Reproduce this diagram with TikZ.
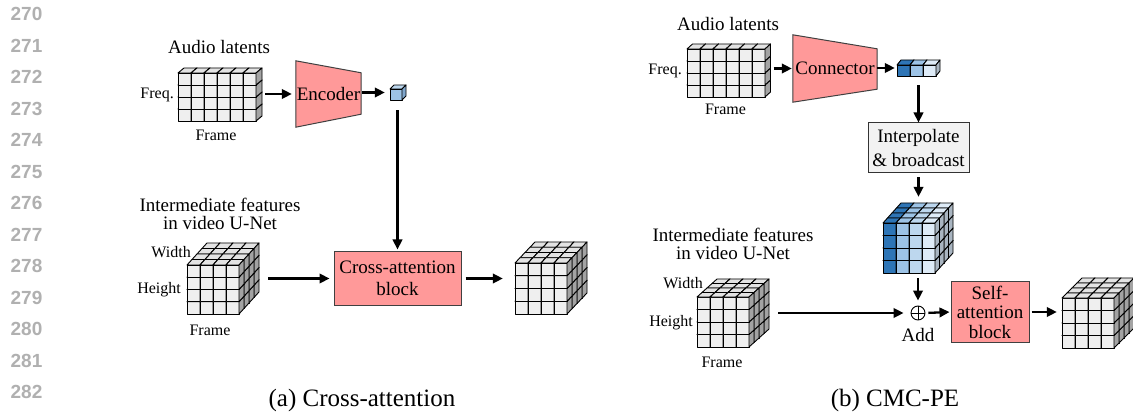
\documentclass[tikz,border=0pt]{standalone}
\usepackage{fontspec}
\setmainfont{Liberation Serif}
\newfontfamily\numfont{Liberation Sans}
\usetikzlibrary{arrows.meta,calc,fit,backgrounds}

% block and cube colours
\definecolor{blockpink}{HTML}{FF9999}
\definecolor{boxgray}{HTML}{F2F2F2}
\definecolor{gface}{HTML}{EFEFEF}
\definecolor{gtop}{HTML}{E3E3E3}
\definecolor{gside}{HTML}{A3A3A3}
\definecolor{bA}{HTML}{2E75B6}\definecolor{bAs}{HTML}{1F4E79}
\definecolor{bB}{HTML}{9DC3E6}\definecolor{bBs}{HTML}{7394B5}
\definecolor{bC}{HTML}{BDD7EE}\definecolor{bCs}{HTML}{8FA8BF}
\definecolor{bD}{HTML}{DEEBF7}\definecolor{bDs}{HTML}{A9B5C1}
\definecolor{bBt}{HTML}{BDD7EE}\definecolor{bBss}{HTML}{7FA6CC}
\definecolor{linenum}{HTML}{B0B0B0}

% colour palettes: set face/top/side colour for column #1
\newcommand\palgray[1]{\def\cubF{gface}\def\cubT{gtop}\def\cubS{gside}}
\newcommand\palsingle[1]{\def\cubF{bB}\def\cubT{bBt}\def\cubS{bBss}}
\newcommand\palrow[1]{\ifcase#1\relax
  \def\cubF{bA}\def\cubT{bA}\def\cubS{bAs}\or
  \def\cubF{bB}\def\cubT{bB}\def\cubS{bBs}\else
  \def\cubF{bD}\def\cubT{bD}\def\cubS{bDs}\fi}
\newcommand\palcube[1]{\ifcase#1\relax
  \def\cubF{bA}\def\cubT{bA}\def\cubS{bAs}\or
  \def\cubF{bB}\def\cubT{bB}\def\cubS{bBs}\or
  \def\cubF{bC}\def\cubT{bC}\def\cubS{bCs}\else
  \def\cubF{bD}\def\cubT{bD}\def\cubS{bDs}\fi}

% cell size and depth step of the small cubes
\newcommand\cubedims[4]{\def\cubW{#1}\def\cubH{#2}\def\cubDX{#3}\def\cubDY{#4}}

% grid of small cubes: #1,#2 top-left of front face, #3 cols, #4 rows,
% #5 depth, #6 palette, #7 name of the node enclosing the grid
\newcommand\cubegrid[7]{%
  \pgfmathtruncatemacro\cmaxv{#3-1}%
  \pgfmathtruncatemacro\rmaxv{#4-1}%
  \pgfmathtruncatemacro\kmaxv{#5-1}%
  \foreach \kk in {\kmaxv,...,0}{%
    \foreach \rr in {\rmaxv,...,0}{%
      \foreach \cc in {0,...,\cmaxv}{%
        #6{\cc}%
        \pgfmathsetmacro\xo{#1+\cc*\cubW+\kk*\cubDX}%
        \pgfmathsetmacro\yo{#2+\rr*\cubH-\kk*\cubDY}%
        \filldraw[cubeline,fill=\cubF] (\xo,\yo) rectangle ++(\cubW,\cubH);
        \filldraw[cubeline,fill=\cubT] (\xo,\yo) -- ++(\cubDX,-\cubDY) -- ++(\cubW,0) -- ++(-\cubDX,\cubDY) -- cycle;
        \filldraw[cubeline,fill=\cubS] (\xo+\cubW,\yo) -- ++(\cubDX,-\cubDY) -- ++(0,\cubH) -- ++(-\cubDX,\cubDY) -- cycle;
      }}}%
  \node[fit={(#1,#2-#5*\cubDY) (#1+#3*\cubW+#5*\cubDX,#2+#4*\cubH)},inner sep=0] (#7) {};%
}

\tikzset{
  cubeline/.style={draw=black,line width=0.9pt,line join=round},
  arr/.style={line width=2.3pt,-{Triangle[length=10pt,width=9.5pt]}},
  title/.style={inner sep=0,font=\fontsize{19}{18}\selectfont,align=center},
  lab/.style={inner sep=0,font=\fontsize{16}{18}\selectfont},
  caption/.style={inner sep=0,font=\fontsize{25}{28}\selectfont},
  pinkblock/.style={draw=black!75,line width=1pt,fill=blockpink,inner sep=0,align=center},
  trap/.style={draw=black!75,line width=1pt,fill=blockpink},
  lnum/.style={inner sep=0,text=linenum,font=\numfont\bfseries\fontsize{19}{20}\selectfont},
}

\begin{document}
\begin{tikzpicture}[x=1pt,y=-1pt]
\useasboundingbox (0,0) rectangle (1133,414);

% line numbers in the margin
\foreach \i in {0,...,12}{
  \pgfmathtruncatemacro\lno{270+\i}
  \node[lnum] (ln\i) at (26.5,14+31.5*\i) {\lno};
}

%% ---------------- (a) cross-attention ----------------
\node[title] (audtA) at (219,47) {Audio latents};
\cubedims{13}{12}{6}{5}
\cubegrid{178}{73}{6}{4}{1}{\palgray}{audA}
\node[lab,anchor=east] (freqA) at (174,95) {Freq.};
\node[lab] (frmA) at (216,135) {Frame};

\node[inner sep=0,minimum width=65pt,minimum height=66pt,font=\fontsize{19}{20}\selectfont] (enc) at (328.5,94) {Encoder};

\cubedims{12}{11}{4}{4}
\cubegrid{390}{89}{1}{1}{1}{\palsingle}{latA}

\node[title] (intA) at (220,214) {Intermediate features\\in video U-Net};
\cubedims{13}{12.25}{5}{5.5}
\cubegrid{187}{265}{4}{4}{4}{\palgray}{featA}
\node[lab,anchor=east] (widA) at (191,252) {Width};
\node[lab,anchor=east] (hgtA) at (181,290) {Height};
\node[lab] (frfA) at (210,330) {Frame};

\node[pinkblock,minimum width=127pt,minimum height=53pt,font=\fontsize{19}{22}\selectfont] (ca) at (397.5,278.5) {Cross-attention\\block};

\cubedims{13}{12.75}{5}{5.25}
\cubegrid{515}{263}{4}{4}{4}{\palgray}{outA}

\draw[arr,shorten <=3pt,shorten >=4pt] (audA.east |- enc.west) -- (enc.west);
\draw[arr,shorten <=1pt,shorten >=5pt] (enc.east |- latA.west) -- (latA.west);
\draw[arr,shorten <=10pt,shorten >=2pt] (latA.south -| ca.north) -- (ca.north);
\draw[arr,shorten <=9pt,shorten >=4pt] (featA.east |- ca.west) -- (ca.west);
\draw[arr,shorten <=4pt,shorten >=12pt] (ca.east) -- (outA.west |- ca.east);

\node[caption] (capA) at (362,400) {(a) Cross-attention};

%% ---------------- (b) CMC-PE ----------------
\node[title] (audtB) at (728,24) {Audio latents};
\cubedims{13}{12}{5.5}{5}
\cubegrid{687}{49}{6}{4}{1}{\palgray}{audB}
\node[lab,anchor=east] (freqB) at (682,71) {Freq.};
\node[lab] (frmB) at (725.5,109) {Frame};

\node[inner sep=0,minimum width=84pt,minimum height=67pt,font=\fontsize{19}{20}\selectfont] (conn) at (835,68.5) {Connector};

\cubedims{13}{11}{4}{5}
\cubegrid{897}{65}{3}{1}{1}{\palrow}{rowB}

\node[draw=black!80,line width=1pt,fill=boxgray,inner sep=0,minimum width=101pt,minimum height=50pt,
  align=center,font=\fontsize{19}{24}\selectfont] (interp) at (918.5,148) {Interpolate\\\& broadcast};

\cubedims{13}{12.5}{4.5}{5}
\cubegrid{883}{223}{4}{4}{4}{\palcube}{peB}

\node[title] (intB) at (733,244) {Intermediate features\\in video U-Net};
\cubedims{13}{12.5}{5}{4.5}
\cubegrid{697}{297}{4}{4}{4}{\palgray}{featB}
\node[lab,anchor=east] (widB) at (703,283) {Width};
\node[lab,anchor=east] (hgtB) at (693,323) {Height};
\node[lab] (frfB) at (722,362) {Frame};

\node[circle,draw,line width=0.9pt,minimum size=14pt,inner sep=0,
  path picture={\draw[line width=0.9pt] (path picture bounding box.north) -- (path picture bounding box.south)
    (path picture bounding box.west) -- (path picture bounding box.east);}] (add) at (918,313) {};
\node[inner sep=0,font=\fontsize{19}{20}\selectfont] (addl) at (918,335) {Add};

\node[pinkblock,minimum width=78pt,minimum height=60pt,font=\fontsize{19}{19.5}\selectfont] (sa) at (990,312) {Self-\\attention\\block};

\cubedims{13}{12.5}{5}{5}
\cubegrid{1062}{298}{4}{4}{4}{\palgray}{outB}

\draw[arr,shorten <=3pt,shorten >=1pt] (audB.east |- conn.west) -- (conn.west);
\draw[arr,shorten <=0pt,shorten >=2pt] (conn.east |- rowB.west) -- (rowB.west);
\draw[arr,shorten <=9pt,shorten >=0pt] (rowB.south -| interp.north) -- (interp.north);
\draw[arr,shorten <=4pt,shorten >=6pt] (interp.south) -- (peB.north -| interp.south);
\draw[arr,shorten <=5pt,shorten >=5pt] (peB.south -| add.north) -- (add.north);
\draw[arr,shorten <=9pt,shorten >=7pt] (featB.east |- add.west) -- (add.west);
\draw[arr,shorten <=3pt,shorten >=1pt] (add.east) -- (sa.west);
\draw[arr,shorten <=2pt,shorten >=5pt] (sa.east) -- (outB.west |- sa.east);

\node[caption] (capB) at (895,400) {(b) CMC-PE};

% white page and the two trapezoidal blocks, behind everything else
\begin{scope}[on background layer]
\fill[white] (0,0) rectangle (1133,414);
\filldraw[trap] (enc.north west) -- ($(enc.north east)+(0,12)$) -- ($(enc.south east)+(0,-13)$) -- (enc.south west) -- cycle;
\filldraw[trap] (conn.north west) -- ($(conn.north east)+(0,14)$) -- ($(conn.south east)+(0,-13)$) -- (conn.south west) -- cycle;
\end{scope}
\end{tikzpicture}
\end{document}
